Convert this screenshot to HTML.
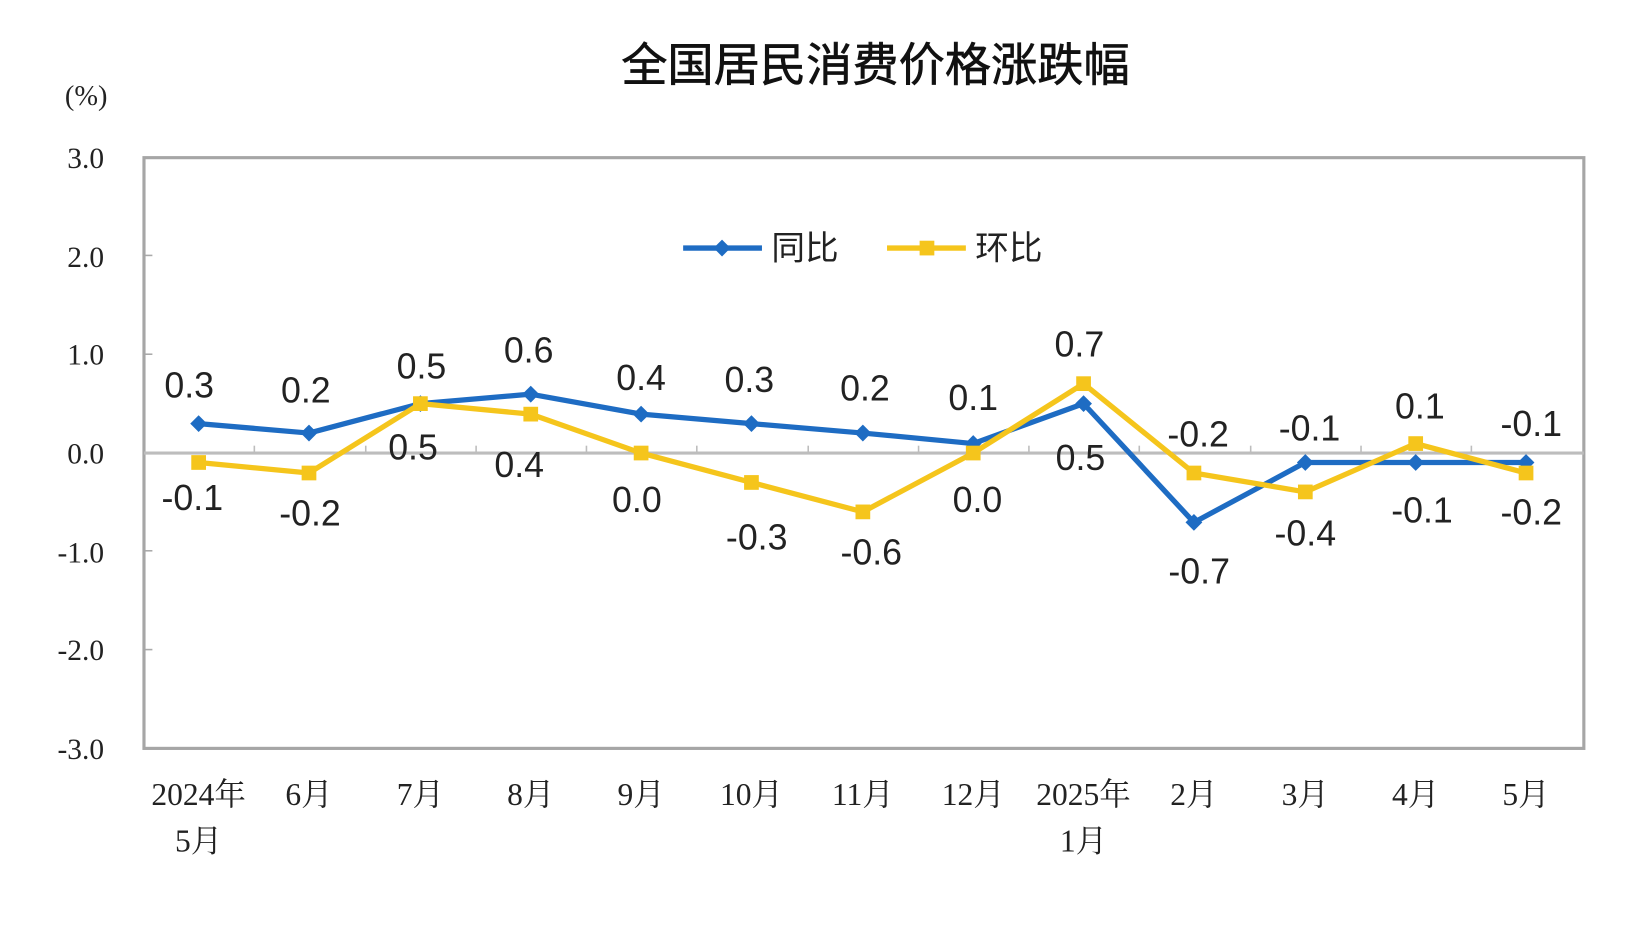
<!DOCTYPE html>
<html><head><meta charset="utf-8"><style>
html,body{margin:0;padding:0;background:#fff;}
svg{display:block;}
.s{font-family:"Liberation Sans","Noto Sans CJK SC",sans-serif;}
.r{font-family:"Liberation Serif","Noto Serif CJK SC",serif;}
</style></head><body>
<svg width="1649" height="946" viewBox="0 0 1569 900" preserveAspectRatio="none" xmlns="http://www.w3.org/2000/svg">
<text x="833" y="77" text-anchor="middle" class="s" font-size="44" fill="#111" stroke="#111" stroke-width="0.6">全国居民消费价格涨跌幅</text>
<text x="82" y="100" text-anchor="middle" class="r" font-size="27" fill="#222">(%)</text>
<g class="r" font-size="28" fill="#222" text-anchor="end">
<text x="99" y="160">3.0</text><text x="99" y="254">2.0</text><text x="99" y="347">1.0</text><text x="99" y="441">0.0</text><text x="99" y="535">-1.0</text><text x="99" y="628">-2.0</text><text x="99" y="722">-3.0</text>
</g>
<g stroke="#aaa" stroke-width="1.5"><line x1="137" y1="243" x2="145" y2="243"/><line x1="137" y1="337" x2="145" y2="337"/><line x1="137" y1="524" x2="145" y2="524"/><line x1="137" y1="618" x2="145" y2="618"/></g>
<rect x="137" y="150" width="1370" height="562" fill="none" stroke="#a6a6a6" stroke-width="3"/>
<line x1="137" y1="431" x2="1507" y2="431" stroke="#bdbdbd" stroke-width="3"/>
<g stroke="#bdbdbd" stroke-width="1.5">
<line x1="242" y1="424" x2="242" y2="431"/><line x1="348" y1="424" x2="348" y2="431"/><line x1="453" y1="424" x2="453" y2="431"/><line x1="558" y1="424" x2="558" y2="431"/><line x1="663" y1="424" x2="663" y2="431"/><line x1="769" y1="424" x2="769" y2="431"/><line x1="874" y1="424" x2="874" y2="431"/><line x1="979" y1="424" x2="979" y2="431"/><line x1="1084" y1="424" x2="1084" y2="431"/><line x1="1190" y1="424" x2="1190" y2="431"/><line x1="1295" y1="424" x2="1295" y2="431"/><line x1="1400" y1="424" x2="1400" y2="431"/>
</g>
<polyline fill="none" stroke="#1e6cc3" stroke-width="5" stroke-linejoin="round" points="189,403 294,412 400,384 505,375 610,394 715,403 821,412 926,422 1031,384 1136,497 1242,440 1347,440 1452,440"/>
<g fill="#1e6cc3">
<path d="M189,395 l8,8 l-8,8 l-8,-8z"/><path d="M294,404 l8,8 l-8,8 l-8,-8z"/><path d="M400,376 l8,8 l-8,8 l-8,-8z"/><path d="M505,367 l8,8 l-8,8 l-8,-8z"/><path d="M610,386 l8,8 l-8,8 l-8,-8z"/><path d="M715,395 l8,8 l-8,8 l-8,-8z"/><path d="M821,404 l8,8 l-8,8 l-8,-8z"/><path d="M926,414 l8,8 l-8,8 l-8,-8z"/><path d="M1031,376 l8,8 l-8,8 l-8,-8z"/><path d="M1136,489 l8,8 l-8,8 l-8,-8z"/><path d="M1242,432 l8,8 l-8,8 l-8,-8z"/><path d="M1347,432 l8,8 l-8,8 l-8,-8z"/><path d="M1452,432 l8,8 l-8,8 l-8,-8z"/>
</g>
<polyline fill="none" stroke="#f5c51c" stroke-width="5" stroke-linejoin="round" points="189,440 294,450 400,384 505,394 610,431 715,459 821,487 926,431 1031,365 1136,450 1242,468 1347,422 1452,450"/>
<g fill="#f5c51c">
<rect x="182" y="433" width="14" height="14"/><rect x="287" y="443" width="14" height="14"/><rect x="393" y="377" width="14" height="14"/><rect x="498" y="387" width="14" height="14"/><rect x="603" y="424" width="14" height="14"/><rect x="708" y="452" width="14" height="14"/><rect x="814" y="480" width="14" height="14"/><rect x="919" y="424" width="14" height="14"/><rect x="1024" y="358" width="14" height="14"/><rect x="1129" y="443" width="14" height="14"/><rect x="1235" y="461" width="14" height="14"/><rect x="1340" y="415" width="14" height="14"/><rect x="1445" y="443" width="14" height="14"/>
</g>
<g class="s" font-size="34" fill="#222" text-anchor="middle">
<text x="180" y="378">0.3</text><text x="291" y="383">0.2</text><text x="401" y="360">0.5</text><text x="503" y="345">0.6</text><text x="610" y="371">0.4</text><text x="713" y="373">0.3</text><text x="823" y="381">0.2</text><text x="926" y="390">0.1</text><text x="1028" y="447">0.5</text><text x="1141" y="555">-0.7</text><text x="1246" y="419">-0.1</text><text x="1353" y="497">-0.1</text><text x="1457" y="415">-0.1</text>
<text x="183" y="485">-0.1</text><text x="295" y="500">-0.2</text><text x="393" y="437">0.5</text><text x="494" y="454">0.4</text><text x="606" y="487">0.0</text><text x="720" y="523">-0.3</text><text x="829" y="537">-0.6</text><text x="930" y="487">0.0</text><text x="1027" y="339">0.7</text><text x="1140" y="425">-0.2</text><text x="1242" y="519">-0.4</text><text x="1351" y="398">0.1</text><text x="1457" y="499">-0.2</text>
</g>
<line x1="650" y1="236" x2="725" y2="236" stroke="#1e6cc3" stroke-width="5"/>
<path d="M687,228 l8,8 l-8,8 l-8,-8z" fill="#1e6cc3"/>
<text x="734" y="247" class="s" font-size="32" fill="#222">同比</text>
<line x1="844" y1="236" x2="919" y2="236" stroke="#f5c51c" stroke-width="5"/>
<rect x="875" y="229" width="14" height="14" fill="#f5c51c"/>
<text x="928" y="247" class="s" font-size="32" fill="#222">环比</text>
<g class="r" font-size="30" fill="#222" text-anchor="middle">
<text x="189" y="766">2024年</text><text x="189" y="810">5月</text>
<text x="294" y="766">6月</text><text x="400" y="766">7月</text><text x="505" y="766">8月</text><text x="610" y="766">9月</text><text x="715" y="766">10月</text><text x="821" y="766">11月</text><text x="926" y="766">12月</text>
<text x="1031" y="766">2025年</text><text x="1031" y="810">1月</text>
<text x="1136" y="766">2月</text><text x="1242" y="766">3月</text><text x="1347" y="766">4月</text><text x="1452" y="766">5月</text>
</g>
</svg>
</body></html>
